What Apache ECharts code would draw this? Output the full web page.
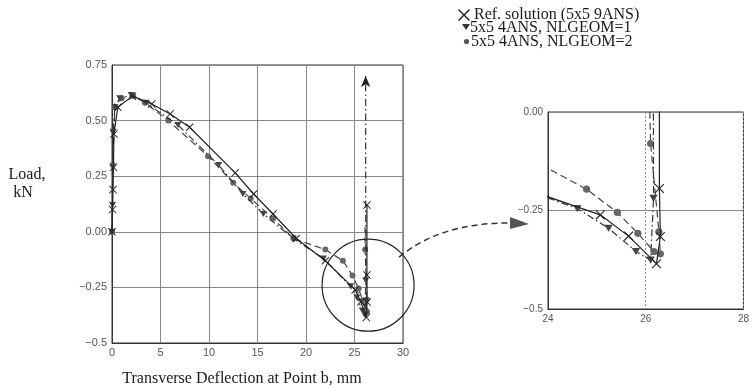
<!DOCTYPE html>
<html>
<head>
<meta charset="utf-8">
<script src="https://cdn.jsdelivr.net/npm/echarts@6/dist/echarts.min.js"></script>
<style>
  html, body { margin: 0; padding: 0; background: #ffffff; }
  #chart { width: 752px; height: 389px; }
</style>
</head>
<body>
<div id="chart"></div>
<script>
// Load vs. transverse deflection at point b (mm / kN)
const seriesNames = ['Ref. solution (5x5 9ANS)', '5x5 4ANS, NLGEOM=1', '5x5 4ANS, NLGEOM=2'];

// Reference solution, 5x5 9ANS
const refX = [0, 0.05, 0.1, 0.15, 0.2, 0.6, 2.1, 4.1, 6.0, 8.0, 12.7, 14.6, 16.6, 19.0, 22.0, 25.07, 25.65, 26.22, 26.3, 26.28, 26.28];
const refY = [0, 0.10, 0.19, 0.29, 0.44, 0.56, 0.61, 0.575, 0.53, 0.47, 0.265, 0.17, 0.08, -0.03, -0.13, -0.261, -0.315, -0.385, -0.316, -0.194, 0.12];

// 5x5 4ANS, NLGEOM=1
const triX = [0, 0.05, 0.12, 0.3, 0.8, 2.0, 3.5, 6.8, 11.0, 13.5, 15.6, 18.7, 21.8, 24.6, 25.24, 25.8, 26.1, 26.16, 26.15];
const triY = [0, 0.12, 0.45, 0.56, 0.60, 0.615, 0.58, 0.48, 0.30, 0.17, 0.08, -0.03, -0.12, -0.245, -0.295, -0.354, -0.376, -0.219, 0.70];

// 5x5 4ANS, NLGEOM=2
const cirX = [0, 0.08, 0.3, 1.0, 2.2, 3.4, 5.8, 9.9, 12.5, 14.3, 16.6, 18.7, 22.0, 23.8, 24.79, 25.42, 25.84, 26.17, 26.3, 26.27, 26.1, 26.08];
const cirY = [0, 0.30, 0.56, 0.60, 0.61, 0.58, 0.50, 0.34, 0.22, 0.15, 0.06, -0.03, -0.08, -0.13, -0.196, -0.255, -0.308, -0.354, -0.36, -0.304, -0.08, 0.02];

// Axis ranges
const mainX = { min: 0, max: 30, step: 5 };
const mainY = { min: -0.5, max: 0.75, step: 0.25 };
const zoomX = { min: 24, max: 28, step: 2 };
const zoomY = { min: -0.5, max: 0, step: 0.25 };

const X_PATH = 'path://M0,1 L1,0 L6,5 L11,0 L12,1 L7,6 L12,11 L11,12 L6,7 L1,12 L0,11 L5,6 Z';
const TRI_DOWN = 'path://M0,0 L10,0 L5,9 Z';
const SERIF = '"Liberation Serif", "Times New Roman", serif';
const SANS = '"Liberation Sans", Arial, sans-serif';

function pairs(xs, ys) { return xs.map((x, i) => [x, ys[i]]); }

function yFmt(v) {
  const s = Math.abs(v - (-0.5)) < 1e-9 ? '-0.5' : v.toFixed(2);
  return s.replace('-', '\u2212');
}

function triData() {
  const d = pairs(triX, triY);
  const last = d.length - 1;
  d[last] = { value: d[last], symbol: 'arrow', symbolSize: [7, 11], itemStyle: { color: '#222' } };
  return d;
}
function cirData() {
  const d = pairs(cirX, cirY);
  const last = d.length - 1;
  d[last] = { value: d[last], symbol: 'none' };
  return d;
}

function makeSeries(gi, scale) {
  return [
    {
      name: seriesNames[0], type: 'line', xAxisIndex: gi, yAxisIndex: gi,
      data: pairs(refX, refY), symbol: X_PATH, symbolSize: 8 * scale,
      lineStyle: { color: '#222', width: 1.2 }, itemStyle: { color: '#222' },
      clip: true, animation: false, z: 4
    },
    {
      name: seriesNames[1], type: 'line', xAxisIndex: gi, yAxisIndex: gi,
      data: triData(), symbol: TRI_DOWN, symbolSize: [7 * scale, 6 * scale],
      lineStyle: { color: '#333', width: 1.2, type: [7, 3, 1.5, 3] }, itemStyle: { color: '#444' },
      clip: true, animation: false, z: 3
    },
    {
      name: seriesNames[2], type: 'line', xAxisIndex: gi, yAxisIndex: gi,
      data: cirData(), symbol: 'circle', symbolSize: 6 * scale,
      lineStyle: { color: '#444', width: 1.2, type: [7, 4] }, itemStyle: { color: '#666' },
      clip: true, animation: false, z: 2
    }
  ];
}

const mainLabel = { color: '#555', fontFamily: SANS, fontSize: 11 };
const zoomLabel = { color: '#555', fontFamily: SANS, fontSize: 10 };

const chart = echarts.init(document.getElementById('chart'), null, { renderer: 'canvas' });

chart.setOption({
  backgroundColor: '#ffffff',
  animation: false,
  grid: [
    { left: 112, right: 349, top: 65, bottom: 46, show: true, borderColor: '#333', borderWidth: 1, containLabel: false },
    { left: 548, right: 4, top: 112, bottom: 80, show: true, borderColor: '#333', borderWidth: 1, containLabel: false }
  ],
  xAxis: [
    {
      gridIndex: 0, type: 'value', min: mainX.min, max: mainX.max, interval: mainX.step,
      axisLine: { show: true, onZero: false, lineStyle: { color: '#333' } },
      axisTick: { show: false },
      axisLabel: Object.assign({ margin: 4 }, mainLabel),
      splitLine: { show: true, lineStyle: { color: '#888', width: 1 } }
    },
    {
      gridIndex: 1, type: 'value', min: zoomX.min, max: zoomX.max, interval: zoomX.step,
      axisLine: { show: true, onZero: false, lineStyle: { color: '#333' } },
      axisTick: { show: false },
      axisLabel: Object.assign({ margin: 5 }, zoomLabel),
      splitLine: { show: true, lineStyle: { color: '#888', width: 1, type: [2, 2] } }
    }
  ],
  yAxis: [
    {
      gridIndex: 0, type: 'value', min: mainY.min, max: mainY.max, interval: mainY.step,
      axisLine: { show: true, onZero: false, lineStyle: { color: '#333' } },
      axisTick: { show: false },
      axisLabel: Object.assign({ margin: 5, formatter: yFmt }, mainLabel),
      splitLine: { show: true, lineStyle: { color: '#888', width: 1 } }
    },
    {
      gridIndex: 1, type: 'value', min: zoomY.min, max: zoomY.max, interval: zoomY.step,
      axisLine: { show: true, onZero: false, lineStyle: { color: '#333' } },
      axisTick: { show: false },
      axisLabel: Object.assign({ margin: 5, formatter: yFmt }, zoomLabel),
      splitLine: { show: true, lineStyle: { color: '#888', width: 1 } }
    }
  ],
  series: makeSeries(0, 1).concat(makeSeries(1, 1.2))
});

// Annotations: legend, axis titles, magnifier circle and connecting arrow
const c = chart.convertToPixel({ gridIndex: 0 }, [26.4, -0.24]);
const txt = (t, x, y, align) => ({
  type: 'text', x: x, y: y,
  style: { text: t, fill: '#1a1a1a', font: '16px ' + SERIF, align: align || 'left', verticalAlign: 'middle' }
});
const xIcon = [[0, 1], [1, 0], [6, 5], [11, 0], [12, 1], [7, 6], [12, 11], [11, 12], [6, 7], [1, 12], [0, 11], [5, 6]];

chart.setOption({
  graphic: [
    // legend
    { type: 'polygon', x: 458, y: 9, shape: { points: xIcon }, style: { fill: '#222' } },
    txt(seriesNames[0], 474, 15),
    { type: 'polygon', shape: { points: [[462, 24], [470, 24], [466, 30]] }, style: { fill: '#333' } },
    txt(seriesNames[1], 470, 28),
    { type: 'circle', shape: { cx: 466.5, cy: 41.5, r: 2.6 }, style: { fill: '#555' } },
    txt(seriesNames[2], 471, 42),
    // axis titles
    txt('Load,', 27, 175, 'center'),
    txt('kN', 23, 193, 'center'),
    txt('Transverse Deflection at Point b, mm', 242, 379, 'center'),
    // magnifier circle
    { type: 'circle', shape: { cx: c[0], cy: c[1], r: 46 }, style: { fill: 'none', stroke: '#222', lineWidth: 1.2 }, z: 10 },
    // dashed connector to the enlarged view
    { type: 'bezierCurve', shape: { x1: c[0] + 31, y1: c[1] - 28, cpx1: c[0] + 73, cpy1: c[1] - 63, x2: 512, y2: 223 },
      style: { fill: 'none', stroke: '#333', lineWidth: 1.5, lineDash: [6, 4] }, z: 10 },
    { type: 'polygon', shape: { points: [[510, 217], [529, 224], [510, 229]] }, style: { fill: '#555' }, z: 10 }
  ]
});
</script>
</body>
</html>
